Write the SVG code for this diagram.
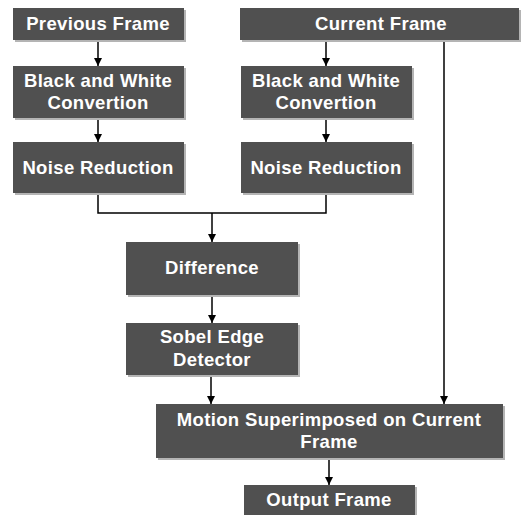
<svg xmlns="http://www.w3.org/2000/svg" width="521" height="515" viewBox="0 0 521 515">
  <style>
    .box { fill: #505050; }
    .shadow { fill: #b4b4b4; }
    .lbl { fill: #ffffff; font-family: "Liberation Sans", Arial, sans-serif; font-weight: bold; font-size: 18.5px; letter-spacing: 0.35px; text-anchor: middle; }
    .wire { stroke: #000000; stroke-width: 1.5; fill: none; }
    .arrow { stroke: #000000; stroke-width: 1.5; fill: none; marker-end: url(#head); }
  </style>
  <defs>
    <marker id="head" viewBox="0 0 8 10" refX="8" refY="5" markerWidth="8" markerHeight="10" markerUnits="userSpaceOnUse" orient="auto">
      <path d="M0,1 L8,5 L0,9 Z" fill="#000000"/>
    </marker>
  </defs>
  <rect width="521" height="515" fill="#ffffff"/>

  <g id="connectors">
    <line class="arrow" x1="98" y1="40" x2="98" y2="66"/>
    <line class="arrow" x1="98" y1="118" x2="98" y2="142"/>
    <line class="arrow" x1="326" y1="40" x2="326" y2="66"/>
    <line class="arrow" x1="326" y1="118" x2="326" y2="142"/>
    <polyline class="wire" points="98,193 98,213 326,213 326,193"/>
    <line class="arrow" x1="212" y1="213" x2="212" y2="242"/>
    <line class="arrow" x1="212" y1="295" x2="212" y2="323"/>
    <line class="arrow" x1="211" y1="375" x2="211" y2="404"/>
    <line class="arrow" x1="444" y1="40" x2="444" y2="404"/>
    <line class="arrow" x1="329" y1="458" x2="329" y2="485"/>
  </g>

  <g id="previous-frame">
    <rect class="shadow" x="15" y="10" width="171" height="32"/>
    <rect class="box" x="13" y="8" width="171" height="32"/>
    <text class="lbl" x="98" y="30">Previous Frame</text>
  </g>
  <g id="current-frame">
    <rect class="shadow" x="242" y="10" width="279" height="32"/>
    <rect class="box" x="240" y="8" width="279" height="32"/>
    <text class="lbl" x="381" y="30">Current Frame</text>
  </g>
  <g id="bw-left">
    <rect class="shadow" x="15" y="68" width="171" height="52"/>
    <rect class="box" x="13" y="66" width="171" height="52"/>
    <text class="lbl" x="98" y="87">Black and White</text>
    <text class="lbl" x="98" y="109">Convertion</text>
  </g>
  <g id="bw-right">
    <rect class="shadow" x="243" y="68" width="171" height="52"/>
    <rect class="box" x="241" y="66" width="171" height="52"/>
    <text class="lbl" x="326" y="87">Black and White</text>
    <text class="lbl" x="326" y="109">Convertion</text>
  </g>
  <g id="noise-left">
    <rect class="shadow" x="15" y="144" width="171" height="51"/>
    <rect class="box" x="13" y="142" width="171" height="51"/>
    <text class="lbl" x="98" y="174">Noise Reduction</text>
  </g>
  <g id="noise-right">
    <rect class="shadow" x="243" y="144" width="171" height="51"/>
    <rect class="box" x="241" y="142" width="171" height="51"/>
    <text class="lbl" x="326" y="174">Noise Reduction</text>
  </g>
  <g id="difference">
    <rect class="shadow" x="128" y="244" width="172" height="53"/>
    <rect class="box" x="126" y="242" width="172" height="53"/>
    <text class="lbl" x="212" y="274">Difference</text>
  </g>
  <g id="sobel">
    <rect class="shadow" x="128" y="325" width="172" height="52"/>
    <rect class="box" x="126" y="323" width="172" height="52"/>
    <text class="lbl" x="212" y="343">Sobel Edge</text>
    <text class="lbl" x="212" y="366">Detector</text>
  </g>
  <g id="motion">
    <rect class="shadow" x="158" y="406" width="347" height="54"/>
    <rect class="box" x="156" y="404" width="347" height="54"/>
    <text class="lbl" x="329" y="426">Motion Superimposed on Current</text>
    <text class="lbl" x="329" y="448">Frame</text>
  </g>
  <g id="output">
    <rect class="shadow" x="246" y="487" width="171" height="30"/>
    <rect class="box" x="244" y="485" width="171" height="32"/>
    <text class="lbl" x="329" y="506">Output Frame</text>
  </g>
</svg>
